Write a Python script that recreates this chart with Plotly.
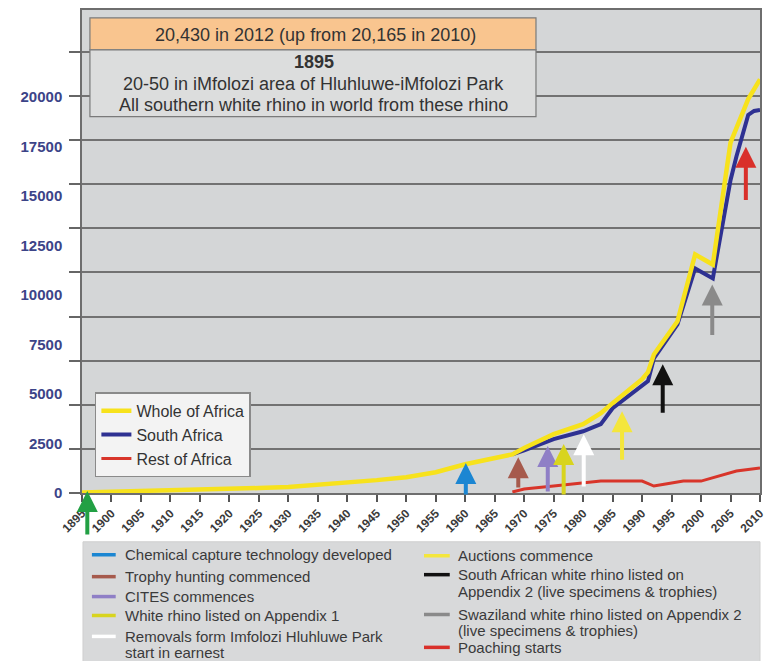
import plotly.graph_objects as go

# ---------------- data ----------------
years_whole = [1895, 1900, 1910, 1920, 1925, 1930, 1935, 1940, 1945, 1950, 1955, 1960, 1965, 1968,
               1970, 1975, 1980, 1983, 1985, 1990, 1991, 1992, 1996, 1999, 2002, 2005, 2008, 2010]
whole_africa = [30, 60, 120, 200, 250, 300, 400, 500, 650, 800, 1050, 1450, 1760, 1950,
                2270, 2970, 3480, 4030, 4540, 5750, 6100, 7000, 8670, 12050, 11540, 17700, 19900, 20900]

years_sa = [1968, 1970, 1975, 1980, 1983, 1985, 1991, 1992, 1996, 1999, 2002, 2005, 2006, 2008, 2009, 2010]
south_africa = [1950, 2150, 2720, 3120, 3480, 4280, 5650, 6800, 8520, 11340, 10840, 15800, 17000, 19100, 19300, 19350]

years_rest = [1968, 1970, 1975, 1980, 1983, 1990, 1992, 1994, 1997, 2000, 2003, 2006, 2010]
rest_africa = [50, 200, 350, 500, 600, 600, 350, 450, 600, 600, 860, 1110, 1260]

y_tick_values = [0, 2500, 5000, 7500, 10000, 12500, 15000, 17500, 20000]
x_tick_values = list(range(1895, 2011, 5))

# events (arrows) - key order
event_labels = [
    "Chemical capture technology developed",
    "Trophy hunting commenced",
    "CITES commences",
    "White rhino listed on Appendix 1",
    "Removals form Imfolozi Hluhluwe Park<br>start in earnest",
    "Auctions commence",
    "South African white rhino listed on<br>Appendix 2 (live specimens & trophies)",
    "Swaziland white rhino listed on Appendix 2<br>(live specimens & trophies)",
    "Poaching starts",
]
event_colors = ["#1b86d2", "#a65a4c", "#8f7fc6", "#d8d41e", "#ffffff",
                "#f4e63c", "#111111", "#8a8a8a", "#d9302a"]
event_years = [1960.1, 1969.0, 1974.0, 1976.7, 1980.1, 1986.6, 1993.5, 2001.9, 2007.6]
arrow_tip = [1510, 1810, 2370, 2470, 2970, 4130, 6500, 10530, 17490]
arrow_tail = [-150, 200, 0, -150, 250, 1610, 3980, 7910, 14720]

start_year = 1895.9
start_tip, start_tail = 100, -2170
start_color = "#22a044"

top_note = "20,430 in 2012 (up from 20,165 in 2010)"
box_lines = ["<b>1895</b>",
             "20-50 in iMfolozi area of Hluhluwe-iMfolozi Park",
             "All southern white rhino in world from these rhino"]

# ---------------- layout helpers ----------------
W, H = 775, 661
L, R, T, B = 82, 766, 8, 493
def px(x): return (x - L) / (R - L)
def py(y): return (B - y) / (B - T)

FONT = "Liberation Sans, Arial, sans-serif"

fig = go.Figure()
fig.add_trace(go.Scatter(x=years_sa, y=south_africa, mode="lines", name="South Africa",
                         line=dict(color="#2e3192", width=4), legendrank=2))
fig.add_trace(go.Scatter(x=years_rest, y=rest_africa, mode="lines", name="Rest of Africa",
                         line=dict(color="#d8352a", width=3), legendrank=3))
fig.add_trace(go.Scatter(x=years_whole, y=whole_africa, mode="lines", name="Whole of Africa",
                         line=dict(color="#f7e21c", width=4.5), legendrank=1))
# empty trace so the grid axis (yaxis2) is drawn
fig.add_trace(go.Scatter(x=[None], y=[None], yaxis="y2", showlegend=False, hoverinfo="skip"))

annotations = []
shapes = []

# arrows
for yr, tip, tail, col in zip(event_years, arrow_tip, arrow_tail, event_colors):
    annotations.append(dict(x=yr, y=tip, ax=yr, ay=tail, xref="x", yref="y", axref="x", ayref="y",
                            text="", showarrow=True, arrowhead=2, arrowsize=1.05, arrowwidth=4,
                            arrowcolor=col, standoff=0, startstandoff=0))
annotations.append(dict(x=start_year, y=start_tip, ax=start_year, ay=start_tail, xref="x", yref="y",
                        axref="x", ayref="y", text="", showarrow=True, arrowhead=2, arrowsize=1.05,
                        arrowwidth=4, arrowcolor=start_color, standoff=0, startstandoff=0))

# top boxes
shapes.append(dict(type="rect", xref="paper", yref="paper", x0=px(90), x1=px(540), y0=py(48), y1=py(16),
                   fillcolor="#f9c58f", line=dict(color="#7a7a7a", width=1.2), layer="above"))
shapes.append(dict(type="rect", xref="paper", yref="paper", x0=px(90), x1=px(540), y0=py(115), y1=py(48),
                   fillcolor="#dcdddd", line=dict(color="#7a7a7a", width=1.2), layer="above"))
annotations.append(dict(x=px(318), y=py(33), xref="paper", yref="paper", text=top_note, showarrow=False,
                        font=dict(family=FONT, size=18, color="#333333"), xanchor="center", yanchor="middle"))
for txt, yy in zip(box_lines, [60, 82, 103]):
    annotations.append(dict(x=px(316), y=py(yy), xref="paper", yref="paper", text=txt, showarrow=False,
                            font=dict(family=FONT, size=18, color="#333333"), xanchor="center",
                            yanchor="middle"))

# bottom key
shapes.append(dict(type="rect", xref="paper", yref="paper", x0=px(83), x1=px(766), y0=py(670), y1=py(542),
                   fillcolor="#d8d9da", line=dict(color="#cfcfcf", width=1)))
left_rows = [555, 577, 597, 616, 637]
right_rows = [556, 575, 615, 648]
rows = [(92, 116, 123, r) for r in left_rows] + [(427, 453, 459, r) for r in right_rows]
for (lx0, lx1, tx, ry), lab, col in zip(rows, event_labels, event_colors):
    shapes.append(dict(type="line", xref="paper", yref="paper", x0=px(lx0), x1=px(lx1), y0=py(ry), y1=py(ry),
                       line=dict(color=col, width=3.5)))
    for k, part in enumerate(lab.split("<br>")):
        annotations.append(dict(x=px(tx), y=py(ry + 16.5 * k), xref="paper", yref="paper", text=part,
                                showarrow=False, xanchor="left", yanchor="middle", align="left",
                                font=dict(family=FONT, size=15, color="#3a3a3a")))

fig.update_layout(
    width=W, height=H,
    margin=dict(l=L, r=W - R, t=T, b=H - B),
    paper_bgcolor="white", plot_bgcolor="#d4d6d7",
    showlegend=True,
    legend=dict(x=px(95), y=py(392), xanchor="left", yanchor="top",
                bgcolor="#f3f3f3", bordercolor="#8a8a8a", borderwidth=1.5,
                font=dict(family=FONT, size=16, color="#333333"), tracegroupgap=0),
    xaxis=dict(range=[1895, 2010], tickvals=x_tick_values, tickangle=-45,
               ticks="outside", ticklen=7, tickcolor="#555555", tickwidth=1.5,
               tickfont=dict(family=FONT, size=12, color="#3a3a3a", weight="bold"),
               showgrid=False, zeroline=False, showline=True, linecolor="#6e6e6e", linewidth=1.5, mirror=True),
    yaxis=dict(range=[0, 24400], tickvals=y_tick_values, tickformat="d", showgrid=False, zeroline=False,
               ticks="outside", ticklen=15, tickcolor="rgba(0,0,0,0)",
               tickfont=dict(family=FONT, size=15, color="#3c4488", weight="bold"),
               showline=True, linecolor="#6e6e6e", linewidth=1.5, mirror=True),
    yaxis2=dict(range=[0, 27370], dtick=2500, tick0=0, overlaying="y", side="left", anchor="x",
                showticklabels=False, ticks="outside", ticklen=12, tickcolor="#666666", tickwidth=1.5,
                showgrid=True, gridcolor="#727272", gridwidth=1.5, zeroline=False, showline=False),
    annotations=annotations, shapes=shapes,
)

fig.write_html("out.html")
